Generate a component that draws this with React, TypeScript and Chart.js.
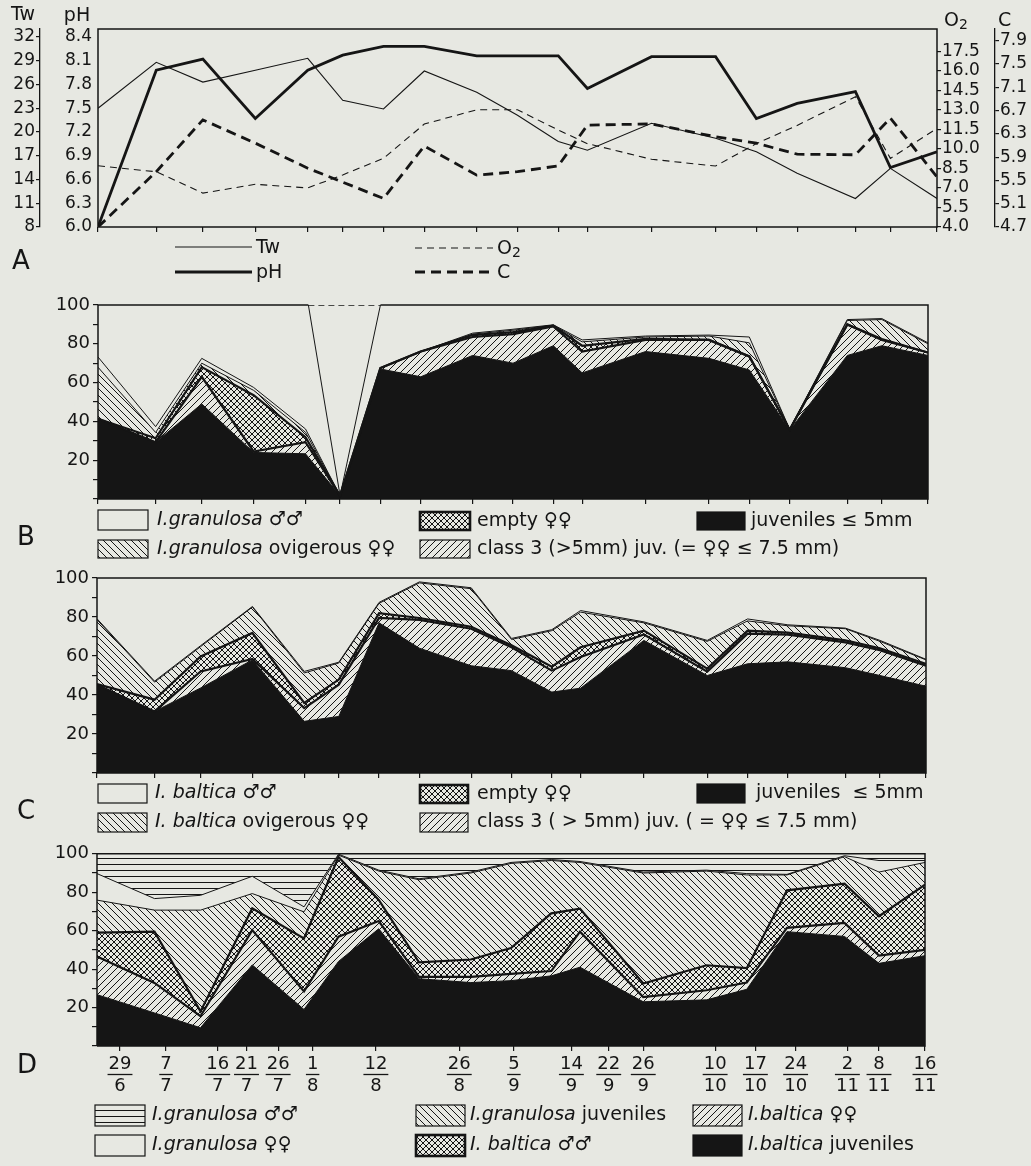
import React, { useEffect, useRef } from 'react';
import { Chart, registerables } from 'chart.js';

Chart.register(...registerables);

const INK = '#151515';
const PAPER = '#e7e8e2';
const FONT = '"DejaVu Sans", sans-serif';

// sampling dates, in days after 29 June
const sampleDays = [-4, 6, 14, 23, 32, 38, 45, 52, 61, 68, 75, 80, 91, 102, 109, 116, 126, 132, 140];

// date ticks of the common time axis (positions as drawn, days after 29 June)
const dateTickDays = [0, 8, 17, 22, 27.5, 33.5, 44.5, 59, 68.5, 78.5, 85, 91, 103.5, 110.5, 117.5, 126.5, 132, 140];
const dateTickLabels = ['29/6', '7/7', '16/7', '21/7', '26/7', '1/8', '12/8', '26/8', '5/9', '14/9', '22/9', '26/9', '10/10', '17/10', '24/10', '2/11', '8/11', '16/11'];

// Panel A: water temperature, pH, oxygen, C
const waterTemp = [23.0, 28.8, 26.3, 27.8, 29.3, 24.0, 22.9, 27.7, 25.0, 22.1, 18.8, 17.7, 21.1, 19.2, 17.5, 14.8, 11.6, 15.4, 11.6];
const phValues = [6.0, 7.98, 8.12, 7.37, 7.98, 8.17, 8.28, 8.28, 8.16, 8.16, 8.16, 7.75, 8.15, 8.15, 7.37, 7.56, 7.71, 6.75, 6.95];
const oxygen = [8.7, 8.24, 6.6, 7.28, 7.0, 8.0, 9.27, 11.9, 13.0, 13.0, 11.44, 10.4, 9.2, 8.68, 10.4, 11.8, 14.0, 9.27, 11.57];
const carbon = [4.7, 5.65, 6.54, 6.14, 5.71, 5.47, 5.19, 6.09, 5.59, 5.65, 5.75, 6.45, 6.47, 6.25, 6.14, 5.95, 5.94, 6.57, 5.56];

const twTicks = [8, 11, 14, 17, 20, 23, 26, 29, 32];
const phTicks = [6.0, 6.3, 6.6, 6.9, 7.2, 7.5, 7.8, 8.1, 8.4];
const o2Ticks = [4.0, 5.5, 7.0, 8.5, 10.0, 11.5, 13.0, 14.5, 16.0, 17.5];
const cTicks = [4.7, 5.1, 5.5, 5.9, 6.3, 6.7, 7.1, 7.5, 7.9];

// Panel B: I. granulosa (%), stacked increments
const bJuveniles = [41.4, 29.3, 49, 24, 23.3, 1.7, 67, 63, 74, 70, 79, 65, 76, 72.5, 66.5, 35.5, 74, 79, 74];
const bClass3 = [0, 0, 14, 0.5, 6, 0, 0.5, 13, 9.5, 15, 10, 11, 6, 9.5, 7, 0.2, 16, 3, 1.5];
const bEmpty = [0, 2, 5, 29, 2.6, 0, 0, 0, 1, 1, 0.3, 3, 0.5, 0, 0, 0, 0, 0.5, 0];
const bOvigerous = [26.5, 3, 2, 2.5, 2.5, 0, 0, 0, 0.5, 1, 0.3, 2, 1, 2, 7, 0.2, 2, 10, 4.5];
const bMales = [5.3, 3, 2.5, 1.5, 1.7, 0, 0, 0, 0.5, 0.5, 0.2, 1, 0.5, 0.5, 3, 0.1, 0.5, 0.5, 0.5];
// missing sample in B
const bMissingDays = [32.5, 38, 45];
const bMissingValues = [100, 1.7, 100];

// Panel C: I. baltica (%), stacked increments
const cJuveniles = [45.3, 31.6, 43.6, 58, 26.5, 29, 77, 64, 55, 52.5, 41.5, 43.5, 68, 50, 56, 57, 54, 50, 44.5];
const cClass3 = [0, 0, 8.5, 0.5, 6.8, 16.3, 2.5, 14.5, 19, 12, 11, 16, 3, 2, 15.5, 14, 13, 13, 10.5];
const cEmpty = [0.3, 6, 7.7, 13.3, 2.6, 2.6, 2.5, 1, 1, 1, 2, 5, 2, 1.5, 1.5, 1, 1, 1, 1];
const cOvigerous = [33, 9, 5, 13.3, 15.4, 8.5, 5, 18, 19.5, 3, 18.5, 18, 4, 14, 5, 3.5, 6, 3.5, 2];
const cMales = [0.5, 0.5, 0.5, 0.3, 0.8, 0.4, 0.5, 0.5, 0.5, 0.5, 0.5, 0.8, 0.5, 0.5, 1, 0.5, 0.3, 0.5, 0.3];

// Panel D: both species (%), stacked increments
const dBalticaJuv = [26.7, 17.2, 9.5, 42.2, 19, 44, 61, 35, 33, 34, 36.5, 41, 23, 24, 29.5, 59.5, 57, 43, 47];
const dBalticaFem = [19.9, 15.6, 6, 18.1, 9.4, 12.9, 4, 1, 3, 3.5, 2.5, 18.5, 2.5, 5, 3.5, 2, 7, 4, 3];
const dBalticaMale = [12.4, 26.7, 2.5, 11.3, 27.6, 41.4, 11, 7.5, 9, 13.5, 30, 12, 7, 13, 7.5, 19.5, 20.5, 20.5, 34];
const dGranJuv = [16.9, 11.2, 52.7, 7.7, 13.8, 1, 15, 43, 45, 44, 27.5, 24, 57.5, 49, 48.5, 8, 14, 23, 11.5];
const dGranFem = [13.8, 6, 7.7, 9, 2.6, 0.5, 0.5, 0.5, 0.5, 0.5, 0.5, 0.5, 0.5, 0.5, 0.7, 0.3, 0.5, 6, 1];
const dGranMale = [10.3, 23.4, 21.6, 11.7, 27.6, 0.2, 8.5, 13, 9.5, 4.5, 3, 4, 9.5, 8.5, 10.3, 10.8, 1, 3.5, 3.5];

const pctTicks = [0, 10, 20, 30, 40, 50, 60, 70, 80, 90, 100];
const pctLabels = [20, 40, 60, 80, 100];

type Seg = { t: string; i?: boolean };

const pts = (vals: number[]) => vals.map((y, i) => ({ x: sampleDays[i], y }));

function hatch(kind: string): any {
  if (kind === 'black') return INK;
  if (kind === 'white') return 'rgba(0,0,0,0)';
  const s = kind === 'cross' ? 6 : kind === 'horiz' ? 6 : 7;
  const c = document.createElement('canvas');
  c.width = s;
  c.height = s;
  const g = c.getContext('2d') as CanvasRenderingContext2D;
  g.strokeStyle = INK;
  g.lineWidth = 1;
  g.beginPath();
  if (kind === 'fwd' || kind === 'cross') {
    g.moveTo(-1, s + 1); g.lineTo(s + 1, -1);
    g.moveTo(-1, 1); g.lineTo(1, -1);
    g.moveTo(s - 1, s + 1); g.lineTo(s + 1, s - 1);
  }
  if (kind === 'back' || kind === 'cross') {
    g.moveTo(-1, -1); g.lineTo(s + 1, s + 1);
    g.moveTo(s - 1, -1); g.lineTo(s + 1, 1);
    g.moveTo(-1, s - 1); g.lineTo(1, s + 1);
  }
  if (kind === 'horiz') {
    g.moveTo(0, 0.5); g.lineTo(s, 0.5);
  }
  g.stroke();
  return g.createPattern(c, 'repeat');
}

function rich(ctx: CanvasRenderingContext2D, x: number, y: number, segs: Seg[], size = 19) {
  ctx.save();
  ctx.fillStyle = INK;
  ctx.textBaseline = 'middle';
  ctx.textAlign = 'left';
  let cx = x;
  for (const s of segs) {
    ctx.font = `${s.i ? 'italic ' : ''}${size}px ${FONT}`;
    ctx.fillText(s.t, cx, y);
    cx += ctx.measureText(s.t).width;
  }
  ctx.restore();
}

function letter(ctx: CanvasRenderingContext2D, t: string, x: number, y: number) {
  ctx.save();
  ctx.fillStyle = INK;
  ctx.font = `26px ${FONT}`;
  ctx.textBaseline = 'middle';
  ctx.textAlign = 'left';
  ctx.fillText(t, x, y);
  ctx.restore();
}

type Item = { x: number; y: number; w: number; h: number; kind: string; thick?: boolean; tx: number; segs: Seg[] };

function drawLegend(ctx: CanvasRenderingContext2D, items: Item[]) {
  for (const it of items) {
    ctx.save();
    ctx.fillStyle = hatch(it.kind);
    ctx.fillRect(it.x, it.y, it.w, it.h);
    ctx.strokeStyle = INK;
    ctx.lineWidth = it.thick ? 2.6 : 1.2;
    ctx.strokeRect(it.x, it.y, it.w, it.h);
    ctx.restore();
    rich(ctx, it.tx, it.y + it.h / 2, it.segs);
  }
}

function framePlugin(gap?: [number, number]) {
  return {
    id: 'frame',
    afterDatasetsDraw(chart: any) {
      const { ctx, chartArea: a, scales } = chart;
      ctx.save();
      ctx.strokeStyle = INK;
      ctx.lineWidth = 1.5;
      ctx.beginPath();
      ctx.moveTo(a.left, a.bottom);
      ctx.lineTo(a.left, a.top);
      if (gap) {
        ctx.lineTo(scales.x.getPixelForValue(gap[0]), a.top);
        ctx.moveTo(scales.x.getPixelForValue(gap[1]), a.top);
      }
      ctx.lineTo(a.right, a.top);
      ctx.lineTo(a.right, a.bottom);
      ctx.lineTo(a.left, a.bottom);
      ctx.stroke();
      ctx.restore();
    },
  };
}

function xAxis(tickDays: number[], height: number) {
  return {
    type: 'linear',
    min: -4,
    max: 140,
    afterBuildTicks: (s: any) => { s.ticks = tickDays.map((v) => ({ value: v })); },
    ticks: { display: false, autoSkip: false },
    grid: { display: true, drawOnChartArea: false, drawTicks: true, tickLength: 5, color: INK, lineWidth: 1.2 },
    border: { display: false },
    afterFit: (s: any) => { s.height = height; },
  };
}

function pctAxis(width: number) {
  return {
    stacked: true,
    min: 0,
    max: 100,
    afterBuildTicks: (s: any) => { s.ticks = pctTicks.map((v) => ({ value: v })); },
    ticks: {
      autoSkip: false,
      color: INK,
      font: { family: 'DejaVu Sans', size: 18 },
      padding: 3,
      callback: (v: any) => (pctLabels.includes(Number(v)) ? String(v) : ''),
    },
    grid: { display: true, drawOnChartArea: false, drawTicks: true, tickLength: 5, color: INK, lineWidth: 1.2 },
    border: { display: false },
    afterFit: (s: any) => { s.width = width; },
  };
}

function sideAxis(pos: string, weight: number, min: number, max: number, ticks: number[], width: number, digits: number, opts: any) {
  return {
    position: pos,
    weight,
    min,
    max,
    afterBuildTicks: (s: any) => { s.ticks = ticks.map((v) => ({ value: v })); },
    ticks: {
      autoSkip: false,
      color: INK,
      font: { family: 'DejaVu Sans', size: 17 },
      padding: opts.padding,
      callback: (v: any) => Number(v).toFixed(digits),
    },
    grid: {
      display: opts.tickMarks,
      drawOnChartArea: false,
      drawTicks: opts.tickMarks,
      tickLength: 4,
      color: INK,
      lineWidth: 1.2,
    },
    border: { display: opts.border, color: INK, width: 1.3 },
    afterFit: (s: any) => { s.width = width; },
  };
}

function layer(label: string, values: number[], fill: any, kind: string, width: number) {
  return {
    label,
    data: pts(values),
    fill,
    backgroundColor: hatch(kind),
    borderColor: INK,
    borderWidth: width,
    stack: 'layers',
    pointRadius: 0,
    tension: 0,
  };
}

const baseOptions = (padding: any) => ({
  animation: false,
  responsive: false,
  devicePixelRatio: 1,
  events: [],
  layout: { padding },
  elements: { point: { radius: 0 }, line: { tension: 0 } },
  plugins: {
    legend: { display: false },
    tooltip: { enabled: false },
    filler: { drawTime: 'beforeDatasetsDraw', propagate: false },
  },
});

function buildA(canvas: HTMLCanvasElement) {
  const extras = {
    id: 'aExtras',
    afterDraw(chart: any) {
      const ctx: CanvasRenderingContext2D = chart.ctx;
      ctx.save();
      ctx.fillStyle = INK;
      ctx.textBaseline = 'middle';
      ctx.font = `19px ${FONT}`;
      ctx.textAlign = 'center';
      ctx.fillText('Tw', 23, 15);
      ctx.fillText('pH', 77, 16);
      ctx.textAlign = 'left';
      ctx.fillText('O', 944, 21);
      const ow = ctx.measureText('O').width;
      ctx.font = `14px ${FONT}`;
      ctx.fillText('2', 944 + ow, 25);
      ctx.font = `19px ${FONT}`;
      ctx.fillText('C', 998, 21);
      // legend
      const lines = [
        { x0: 175, x1: 252, y: 247, w: 1.1, dash: [] as number[], label: 'Tw' },
        { x0: 175, x1: 252, y: 272, w: 2.8, dash: [] as number[], label: 'pH' },
        { x0: 415, x1: 493, y: 248, w: 1.1, dash: [7, 5], label: 'O' },
        { x0: 415, x1: 493, y: 272, w: 2.8, dash: [10, 6], label: 'C' },
      ];
      ctx.strokeStyle = INK;
      for (const l of lines) {
        ctx.lineWidth = l.w;
        ctx.setLineDash(l.dash);
        ctx.beginPath();
        ctx.moveTo(l.x0, l.y);
        ctx.lineTo(l.x1, l.y);
        ctx.stroke();
        ctx.font = `19px ${FONT}`;
        ctx.fillText(l.label, l.x1 + 4, l.y + 1);
        if (l.label === 'O') {
          const w = ctx.measureText('O').width;
          ctx.font = `14px ${FONT}`;
          ctx.fillText('2', l.x1 + 4 + w, l.y + 5);
        }
      }
      ctx.setLineDash([]);
      ctx.restore();
      letter(ctx, 'A', 12, 262);
    },
  };
  return new Chart(canvas, {
    type: 'line',
    data: {
      datasets: [
        { label: 'Tw', data: pts(waterTemp), yAxisID: 'tw', borderColor: INK, borderWidth: 1.1, fill: false },
        { label: 'pH', data: pts(phValues), yAxisID: 'ph', borderColor: INK, borderWidth: 2.8, fill: false },
        { label: 'O2', data: pts(oxygen), yAxisID: 'o2', borderColor: INK, borderWidth: 1.1, borderDash: [7, 5], fill: false },
        { label: 'C', data: pts(carbon), yAxisID: 'c', borderColor: INK, borderWidth: 2.8, borderDash: [10, 6], fill: false },
      ],
    },
    options: {
      ...baseOptions({ top: 29, left: 0, right: 0, bottom: 0 }),
      scales: {
        x: xAxis(sampleDays, 63),
        tw: sideAxis('left', 1, 8, 33, twTicks, 40, 0, { padding: 1, tickMarks: true, border: true }),
        ph: sideAxis('left', 0, 6.0, 8.5, phTicks, 58, 1, { padding: 6, tickMarks: false, border: false }),
        o2: sideAxis('right', 0, 4.0, 19.2, o2Ticks, 58, 1, { padding: 1, tickMarks: true, border: false }),
        c: sideAxis('right', 1, 4.7, 8.1, cTicks, 36, 1, { padding: 1, tickMarks: true, border: true }),
      },
    } as any,
    plugins: [framePlugin(), extras],
  } as any);
}

function buildB(canvas: HTMLCanvasElement) {
  const extras = {
    id: 'bExtras',
    afterDraw(chart: any) {
      const ctx = chart.ctx;
      drawLegend(ctx, [
        { x: 98, y: 220, w: 50, h: 20, kind: 'white', tx: 157, segs: [{ t: 'I.granulosa', i: true }, { t: ' ♂♂' }] },
        { x: 98, y: 250, w: 50, h: 18, kind: 'back', tx: 157, segs: [{ t: 'I.granulosa', i: true }, { t: ' ovigerous ♀♀' }] },
        { x: 420, y: 222, w: 50, h: 18, kind: 'cross', thick: true, tx: 477, segs: [{ t: 'empty ♀♀' }] },
        { x: 420, y: 250, w: 50, h: 18, kind: 'fwd', tx: 477, segs: [{ t: 'class 3 (>5mm) juv. (= ♀♀ ≤ 7.5 mm)' }] },
        { x: 697, y: 222, w: 48, h: 18, kind: 'black', tx: 751, segs: [{ t: 'juveniles ≤ 5mm' }] },
      ]);
      letter(ctx, 'B', 17, 248);
    },
  };
  return new Chart(canvas, {
    type: 'line',
    data: {
      datasets: [
        layer('juveniles ≤ 5mm', bJuveniles, 'origin', 'black', 1),
        layer('class 3 juv.', bClass3, '-1', 'fwd', 2.2),
        layer('empty ♀♀', bEmpty, '-1', 'cross', 2.2),
        layer('ovigerous ♀♀', bOvigerous, '-1', 'back', 1),
        layer('♂♂', bMales, false, 'white', 1),
        {
          label: 'missing sample',
          data: bMissingDays.map((x, i) => ({ x, y: bMissingValues[i] })),
          stack: 'missing', fill: false, borderColor: INK, borderWidth: 1, pointRadius: 0,
        },
        {
          label: 'missing top',
          data: [{ x: bMissingDays[0], y: 100 }, { x: bMissingDays[2], y: 100 }],
          stack: 'missingTop', fill: false, borderColor: INK, borderWidth: 1.4, borderDash: [6, 4], pointRadius: 0,
        },
      ],
    },
    options: {
      ...baseOptions({ top: 15, left: 0, right: 103, bottom: 0 }),
      scales: { x: xAxis(sampleDays, 61), y: pctAxis(98) },
    } as any,
    plugins: [framePlugin([bMissingDays[0], bMissingDays[2]]), extras],
  } as any);
}

function buildC(canvas: HTMLCanvasElement) {
  const extras = {
    id: 'cExtras',
    afterDraw(chart: any) {
      const ctx = chart.ctx;
      drawLegend(ctx, [
        { x: 98, y: 224, w: 49, h: 19, kind: 'white', tx: 155, segs: [{ t: 'I. baltica', i: true }, { t: ' ♂♂' }] },
        { x: 98, y: 253, w: 49, h: 19, kind: 'back', tx: 155, segs: [{ t: 'I. baltica', i: true }, { t: ' ovigerous ♀♀' }] },
        { x: 420, y: 225, w: 48, h: 18, kind: 'cross', thick: true, tx: 477, segs: [{ t: 'empty ♀♀' }] },
        { x: 420, y: 253, w: 48, h: 19, kind: 'fwd', tx: 477, segs: [{ t: 'class 3 ( > 5mm) juv. ( = ♀♀ ≤ 7.5 mm)' }] },
        { x: 697, y: 224, w: 48, h: 19, kind: 'black', tx: 756, segs: [{ t: 'juveniles  ≤ 5mm' }] },
      ]);
      letter(ctx, 'C', 17, 252);
    },
  };
  return new Chart(canvas, {
    type: 'line',
    data: {
      datasets: [
        layer('juveniles ≤ 5mm', cJuveniles, 'origin', 'black', 1),
        layer('class 3 juv.', cClass3, '-1', 'fwd', 2.2),
        layer('empty ♀♀', cEmpty, '-1', 'cross', 2.2),
        layer('ovigerous ♀♀', cOvigerous, '-1', 'back', 1),
        layer('♂♂', cMales, false, 'white', 1),
      ],
    },
    options: {
      ...baseOptions({ top: 18, left: 0, right: 105, bottom: 0 }),
      scales: { x: xAxis(sampleDays, 67), y: pctAxis(97) },
    } as any,
    plugins: [framePlugin(), extras],
  } as any);
}

function buildD(canvas: HTMLCanvasElement) {
  const extras = {
    id: 'dExtras',
    afterDraw(chart: any) {
      const ctx: CanvasRenderingContext2D = chart.ctx;
      const xs = chart.scales.x;
      ctx.save();
      ctx.fillStyle = INK;
      ctx.strokeStyle = INK;
      ctx.font = `18px ${FONT}`;
      ctx.textAlign = 'center';
      ctx.textBaseline = 'middle';
      dateTickLabels.forEach((lab, i) => {
        const [d, m] = lab.split('/');
        const x = xs.getPixelForValue(dateTickDays[i]);
        ctx.fillText(d, x, 224);
        const w = Math.max(ctx.measureText(d).width, ctx.measureText(m).width) + 2;
        ctx.lineWidth = 1.3;
        ctx.beginPath();
        ctx.moveTo(x - w / 2, 234.5);
        ctx.lineTo(x + w / 2, 234.5);
        ctx.stroke();
        ctx.fillText(m, x, 246);
      });
      ctx.restore();
      drawLegend(ctx, [
        { x: 95, y: 265, w: 50, h: 21, kind: 'horiz', tx: 152, segs: [{ t: 'I.granulosa', i: true }, { t: ' ♂♂' }] },
        { x: 95, y: 295, w: 50, h: 21, kind: 'white', tx: 152, segs: [{ t: 'I.granulosa', i: true }, { t: ' ♀♀' }] },
        { x: 416, y: 265, w: 49, h: 21, kind: 'back', tx: 470, segs: [{ t: 'I.granulosa', i: true }, { t: ' juveniles' }] },
        { x: 416, y: 295, w: 49, h: 21, kind: 'cross', thick: true, tx: 470, segs: [{ t: 'I. baltica', i: true }, { t: ' ♂♂' }] },
        { x: 693, y: 265, w: 49, h: 21, kind: 'fwd', tx: 748, segs: [{ t: 'I.baltica', i: true }, { t: ' ♀♀' }] },
        { x: 693, y: 295, w: 49, h: 21, kind: 'black', tx: 748, segs: [{ t: 'I.baltica', i: true }, { t: ' juveniles' }] },
      ]);
      letter(ctx, 'D', 17, 226);
    },
  };
  return new Chart(canvas, {
    type: 'line',
    data: {
      datasets: [
        layer('I. baltica juveniles', dBalticaJuv, 'origin', 'black', 1),
        layer('I. baltica ♀♀', dBalticaFem, '-1', 'fwd', 2.2),
        layer('I. baltica ♂♂', dBalticaMale, '-1', 'cross', 2.2),
        layer('I. granulosa juveniles', dGranJuv, '-1', 'back', 1),
        layer('I. granulosa ♀♀', dGranFem, false, 'white', 1),
        layer('I. granulosa ♂♂', dGranMale, '-1', 'horiz', 0),
      ],
    },
    options: {
      ...baseOptions({ top: 12, left: 0, right: 106, bottom: 0 }),
      scales: { x: xAxis(dateTickDays, 120), y: pctAxis(97) },
    } as any,
    plugins: [framePlugin(), extras],
  } as any);
}

function Panel({ top, height, build }: { top: number; height: number; build: (c: HTMLCanvasElement) => Chart }) {
  const ref = useRef<HTMLCanvasElement>(null);
  useEffect(() => {
    const chart = build(ref.current as HTMLCanvasElement);
    return () => chart.destroy();
  }, [build]);
  return (
    <canvas
      ref={ref}
      width={1031}
      height={height}
      style={{ position: 'absolute', left: 0, top, width: 1031, height, display: 'block' }}
    />
  );
}

export default function App() {
  return (
    <div style={{ position: 'absolute', left: 0, top: 0, width: 1031, height: 1166, background: PAPER, overflow: 'hidden' }}>
      <Panel top={0} height={290} build={buildA} />
      <Panel top={290} height={270} build={buildB} />
      <Panel top={560} height={280} build={buildC} />
      <Panel top={840} height={326} build={buildD} />
    </div>
  );
}
